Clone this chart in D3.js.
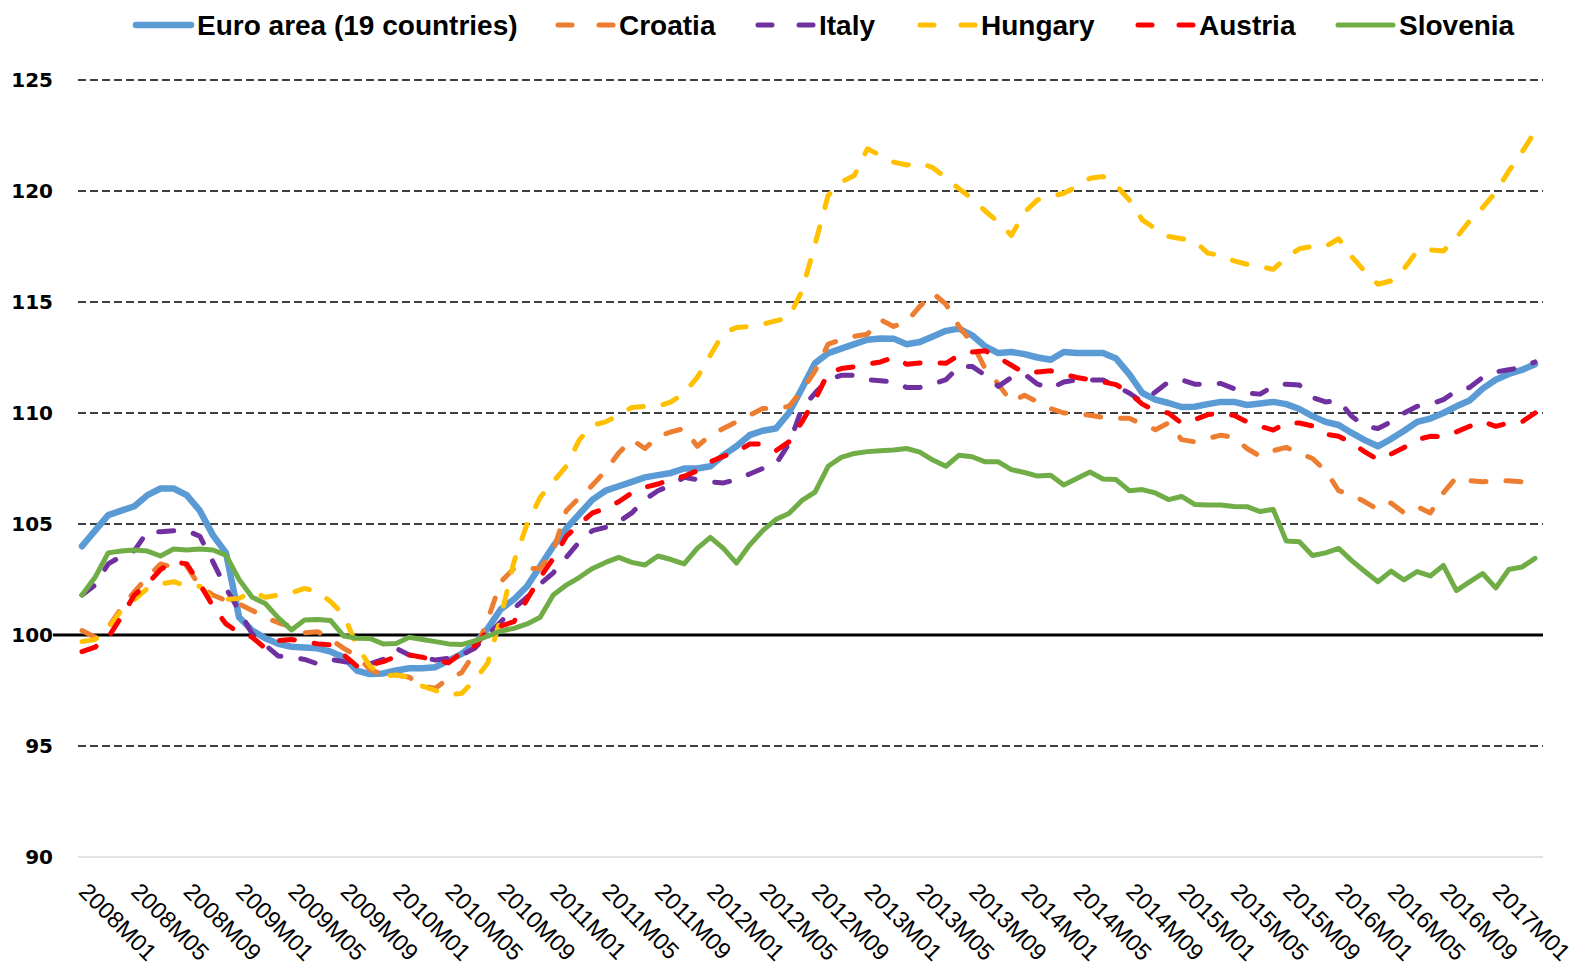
<!DOCTYPE html>
<html>
<head>
<meta charset="utf-8">
<script src="https://cdn.jsdelivr.net/npm/d3@7"></script>
<style>
  body { margin: 0; background: #fff; }
</style>
</head>
<body>
<script>
// monthly categories 2008M01 .. 2017M04
const months = [];
for (let yr = 2008; yr <= 2017; yr++) {
    for (let m = 1; m <= 12; m++) {
        if (months.length < 112) months.push(yr + "M" + String(m).padStart(2, "0"));
    }
}

const tickLabels = ["2008M01","2008M05","2008M09","2009M01","2009M05","2009M09","2010M01","2010M05","2010M09",
    "2011M01","2011M05","2011M09","2012M01","2012M05","2012M09","2013M01","2013M05","2013M09",
    "2014M01","2014M05","2014M09","2015M01","2015M05","2015M09","2016M01","2016M05","2016M09","2017M01"];

const yTicks = [90, 95, 100, 105, 110, 115, 120, 125];

const euroArea = [104.0,104.7,105.4,105.6,105.8,106.3,106.6,106.6,106.3,105.6,104.5,103.7,100.8,100.2,99.85,99.6,
    99.47,99.44,99.4,99.25,99.0,98.4,98.24,98.27,98.4,98.5,98.5,98.55,98.85,99.15,99.6,100.3,
    101.17,101.6,102.2,103.1,104.0,104.8,105.45,106.1,106.5,106.7,106.9,107.1,107.2,107.3,107.5,107.5,
    107.6,108.1,108.5,109.0,109.2,109.3,110.0,111.1,112.25,112.7,112.9,113.1,113.3,113.36,113.35,113.1,
    113.2,113.45,113.7,113.8,113.5,113.0,112.7,112.75,112.65,112.5,112.4,112.75,112.7,112.7,112.7,112.45,
    111.75,110.9,110.6,110.45,110.27,110.28,110.4,110.5,110.5,110.36,110.43,110.5,110.4,110.18,109.86,109.6,
    109.46,109.1,108.78,108.5,108.83,109.2,109.6,109.75,110.0,110.3,110.56,111.1,111.5,111.76,111.94,112.2];

const croatia = [100.2,99.9,100.35,101.2,101.95,102.6,103.2,103.05,103.1,102.2,101.8,101.55,101.4,101.1,100.8,100.55,
    100.38,100.1,100.15,99.8,99.4,99.05,98.45,98.2,98.2,98.1,97.7,97.6,98.05,98.3,99.2,100.7,
    102.4,103.0,103.0,103.0,103.8,105.6,106.2,106.75,107.4,108.2,108.8,108.4,108.93,109.15,109.3,108.5,
    109.0,109.3,109.6,109.9,110.2,110.2,110.3,111.0,111.9,113.1,113.3,113.45,113.55,114.2,113.9,114.1,
    114.8,115.4,114.9,113.9,113.15,112.0,111.3,110.5,110.8,110.5,110.2,110.0,109.98,109.9,109.8,109.76,
    109.76,109.5,109.25,109.55,108.8,108.7,108.85,109.0,108.9,108.4,108.05,108.3,108.45,108.2,107.95,107.4,
    106.5,106.3,106.0,105.65,105.95,105.5,105.78,105.5,106.4,107.1,106.95,106.9,106.95,106.95,106.9,107.5];

const italy = [101.8,102.25,103.2,103.55,103.8,104.65,104.65,104.7,104.7,104.45,103.3,102.1,101.1,100.05,99.55,99.05,
    99.0,98.9,98.7,98.9,98.8,98.75,98.7,98.9,99.4,99.1,99.0,98.87,98.95,99.1,99.4,100.0,
    100.6,101.2,101.7,102.3,102.8,103.5,104.2,104.7,104.85,105.1,105.5,106.1,106.5,106.75,107.1,107.0,
    106.9,106.85,107.0,107.25,107.5,107.7,108.6,110.2,110.9,111.5,111.7,111.7,111.5,111.45,111.4,111.15,
    111.15,111.3,111.5,112.1,112.1,111.7,111.2,111.6,111.75,111.3,111.1,111.4,111.5,111.49,111.49,111.2,
    110.9,110.5,110.95,111.4,111.49,111.3,111.3,111.33,111.1,110.9,110.85,111.2,111.3,111.26,110.7,110.5,
    110.55,109.85,109.4,109.3,109.6,110.0,110.3,110.4,110.6,111.0,111.15,111.6,111.85,111.95,112.05,112.3];

const hungary = [99.7,99.8,100.3,101.1,101.6,102.1,102.3,102.4,102.2,102.2,101.6,101.6,101.65,101.95,101.7,101.8,
    101.9,102.1,101.95,101.5,100.9,99.5,98.6,98.15,98.2,98.1,97.7,97.5,97.3,97.37,97.97,98.74,
    100.8,103.3,105.0,106.2,106.9,107.6,108.8,109.45,109.6,109.9,110.25,110.3,110.3,110.5,110.9,111.6,
    112.6,113.6,113.85,113.9,114.0,114.15,114.3,115.5,117.6,119.8,120.4,120.7,121.9,121.6,121.3,121.17,
    121.27,121.05,120.6,120.1,119.65,119.1,118.6,118.0,119.05,119.6,119.75,119.9,120.2,120.57,120.65,120.25,
    119.6,118.7,118.3,117.95,117.85,117.75,117.2,117.1,116.85,116.7,116.6,116.47,117.0,117.4,117.5,117.5,
    117.85,117.04,116.37,115.8,115.95,116.5,117.3,117.35,117.3,117.9,118.65,119.25,119.95,120.9,121.75,122.67];

const austria = [99.25,99.45,99.9,100.8,101.8,102.3,102.95,103.3,103.2,102.3,101.3,100.5,100.1,99.9,99.4,99.75,
    99.8,99.7,99.6,99.55,99.1,98.6,98.65,98.8,99.03,99.1,99.0,98.85,98.75,99.2,99.5,100.2,
    100.4,100.6,101.6,102.6,103.45,104.45,105.0,105.5,105.7,106.0,106.4,106.65,106.8,107.0,107.15,107.4,
    107.8,108.05,108.25,108.6,108.6,108.3,108.7,109.6,110.6,111.8,112.0,112.08,112.2,112.3,112.5,112.2,
    112.25,112.26,112.24,112.6,112.75,112.8,112.5,112.15,111.8,111.85,111.9,111.75,111.6,111.5,111.4,111.28,
    110.9,110.4,110.1,110.0,109.54,109.7,109.93,109.97,109.9,109.6,109.4,109.23,109.55,109.55,109.42,109.05,
    108.95,108.65,108.25,107.9,108.15,108.45,108.8,108.95,108.93,109.15,109.4,109.62,109.4,109.55,109.6,110.0];

const slovenia = [101.8,102.6,103.7,103.78,103.83,103.78,103.56,103.87,103.83,103.87,103.83,103.6,102.5,101.7,101.42,100.77,
    100.23,100.68,100.7,100.65,99.95,99.85,99.84,99.6,99.62,99.9,99.8,99.7,99.6,99.57,99.73,99.95,
    100.18,100.3,100.5,100.8,101.8,102.25,102.6,103.0,103.27,103.5,103.27,103.15,103.56,103.4,103.2,103.9,
    104.4,103.9,103.24,104.05,104.7,105.2,105.47,106.06,106.44,107.6,108.0,108.18,108.26,108.3,108.33,108.4,
    108.24,107.88,107.6,108.1,108.03,107.8,107.8,107.45,107.32,107.16,107.2,106.76,107.05,107.34,107.03,107.0,
    106.5,106.55,106.4,106.1,106.24,105.88,105.86,105.86,105.79,105.78,105.56,105.66,104.23,104.2,103.58,103.7,
    103.9,103.35,102.86,102.4,102.88,102.48,102.86,102.66,103.13,102.0,102.39,102.77,102.12,102.95,103.06,103.45];

const seriesNames = ["Euro area (19 countries)", "Croatia", "Italy", "Hungary", "Austria", "Slovenia"];
const seriesColors = ["#5B9BD5", "#ED7D31", "#7030A0", "#FFC000", "#FF0000", "#70AD47"];

const width = 1579;
const height = 970;

const svg = d3.select("body").append("svg")
    .attr("width", width)
    .attr("height", height);

const x = d3.scalePoint()
    .domain(months)
    .range([82, 1535]);

const y = d3.scaleLinear()
    .domain([90, 125])
    .range([857, 80]);

// horizontal gridlines
svg.append("g").selectAll("line")
    .data(yTicks)
    .enter()
    .append("line")
    .attr("x1", d => d === 100 ? 53 : 78)
    .attr("x2", 1543)
    .attr("y1", d => y(d))
    .attr("y2", d => y(d))
    .attr("stroke", d => d === 90 ? "#d9d9d9" : "#000")
    .attr("stroke-width", d => d === 100 ? 3 : (d === 90 ? 1.5 : 1.6))
    .attr("stroke-dasharray", d => (d === 100 || d === 90) ? null : "8,4");

// y axis labels
const yAxis = d3.axisLeft(y).tickValues(yTicks).tickSize(0).tickPadding(0);
const yG = svg.append("g")
    .attr("transform", "translate(53,0)")
    .call(yAxis);
yG.select(".domain").remove();
yG.selectAll("text")
    .style("font-family", "'DejaVu Sans', sans-serif")
    .style("font-weight", "bold")
    .style("font-size", "20px")
    .attr("fill", "#000");

// x axis labels, rotated
const xAxis = d3.axisBottom(x).tickValues(tickLabels).tickSize(0);
const xG = svg.append("g")
    .attr("transform", "translate(0,857)")
    .call(xAxis);
xG.select(".domain").remove();
xG.selectAll("text")
    .attr("x", 0)
    .attr("y", 0)
    .attr("dy", null)
    .attr("transform", "translate(-5,36) rotate(45)")
    .style("text-anchor", "start")
    .style("font-family", "'Liberation Sans', Arial, sans-serif")
    .style("font-size", "23.5px")
    .attr("fill", "#000");

// series
const allSeries = [euroArea, croatia, italy, hungary, austria, slovenia];
const line = d3.line()
    .x((d, i) => x(months[i]))
    .y(d => y(d));

svg.append("g").selectAll("path")
    .data(allSeries)
    .enter()
    .append("path")
    .attr("d", d => line(d))
    .attr("fill", "none")
    .attr("stroke", (d, i) => seriesColors[i])
    .attr("stroke-width", (d, i) => i === 0 ? 6.5 : 5)
    .attr("stroke-linejoin", "round")
    .attr("stroke-linecap", "round")
    .attr("stroke-dasharray", (d, i) => (i === 0 || i === 5) ? null : "15,20");

// legend
const legendX = [134, 556, 756, 918, 1136, 1336];
const legendG = svg.append("g");
seriesNames.forEach((name, i) => {
    const lx = legendX[i];
    legendG.append("line")
        .attr("x1", lx + 2)
        .attr("x2", lx + 57)
        .attr("y1", 25)
        .attr("y2", 25)
        .attr("stroke", seriesColors[i])
        .attr("stroke-width", i === 0 ? 6.5 : 5)
        .attr("stroke-linecap", "round")
        .attr("stroke-dasharray", (i === 0 || i === 5) ? null : "14,27");
    legendG.append("text")
        .attr("x", lx + 63)
        .attr("y", 25)
        .attr("dy", "0.35em")
        .style("font-family", "'Liberation Sans', Arial, sans-serif")
        .style("font-weight", "bold")
        .style("font-size", "28px")
        .text(name);
});
</script>
</body>
</html>
